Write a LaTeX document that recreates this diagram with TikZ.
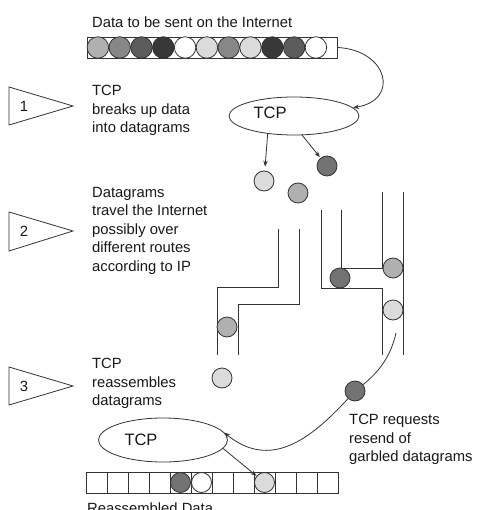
\documentclass[tikz,border=0pt]{standalone}
\usepackage{fontspec}
\setmainfont{Liberation Sans}
\usetikzlibrary{arrows.meta,shapes.geometric}

\definecolor{gA}{gray}{0.69}  % light-medium grey
\definecolor{gB}{gray}{0.53}  % medium grey
\definecolor{gC}{gray}{0.36}  % dark grey
\definecolor{gD}{gray}{0.22}  % very dark grey
\definecolor{gE}{gray}{0.86}  % pale grey
\definecolor{gF}{gray}{0.45}  % garbled / routed dark grey
\definecolor{ink}{gray}{0.2}

\begin{document}
\begin{tikzpicture}[x=1pt,y=-1pt,
  wall/.style={draw=ink, line width=0.8pt},
  dot/.style={circle, draw=ink, line width=0.8pt, inner sep=0pt, minimum size=20pt},
  bigdot/.style={dot, minimum size=21.5pt},
  cell/.style={rectangle, draw=ink, line width=0.8pt, inner sep=0pt, minimum width=21pt, minimum height=21pt},
  tcpshape/.style={ellipse, draw=ink, line width=0.8pt, inner sep=0pt},
  tcptext/.style={inner sep=0pt, font=\fontsize{16.5}{20}\selectfont, text=black!90},
  lbl/.style={anchor=north west, inner sep=0pt, align=left, font=\fontsize{14.8}{18.5}\selectfont, text=black!90},
  numtext/.style={inner sep=0pt, font=\fontsize{14.8}{18}\selectfont, text=black!90},
  arr/.style={draw=ink, line width=0.8pt, -{Stealth[length=6pt,width=4.5pt]}}
]
\useasboundingbox (0,0) rectangle (478,510);
\fill[white] (0,0) rectangle (478,510);

% ---------- step pennants ----------
\draw[wall] (9,87) -- (73,106) -- (9,125) -- cycle;
\node[numtext] (n1) at (24,106) {1};
\draw[wall] (9,212) -- (73,231) -- (9,251) -- cycle;
\node[numtext] (n2) at (24,231) {2};
\draw[wall] (9,367) -- (73,386) -- (9,405) -- cycle;
\node[numtext] (n3) at (24,386) {3};

% ---------- captions ----------
\node[lbl] (cap0) at (92,17) {Data to be sent on the Internet};
\node[lbl] (cap1) at (92,85) {TCP\\breaks up data\\into datagrams};
\node[lbl] (cap2) at (92,187) {Datagrams\\travel the Internet\\possibly over\\different routes\\according to IP};
\node[lbl] (cap3) at (92,358) {TCP\\reassembles\\datagrams};
\node[lbl] (cap4) at (349,414) {TCP requests\\resend of\\garbled datagrams};
\node[lbl] (cap5) at (87,503) {Reassembled Data};

% ---------- original data stream ----------
\node[cell, minimum width=250pt] (src) at (212,47.5) {};
\foreach \c [count=\i from 0] in {gA,gB,gC,gD,white,gE,gB,gE,gD,gC,white}
  \node[bigdot, fill=\c] (s\i) at ({97.9+21.8*\i},47.5) {};

% ---------- sending TCP ----------
\node[tcpshape, minimum width=130pt, minimum height=38pt] (tcp1) at (294,116) {};
\node[tcptext] (tcp1t) at (270,113) {TCP};
\draw[draw=ink, line width=0.8pt, -{Stealth[length=6pt,width=4.5pt]}]
  (src.east) .. controls (388,50) and (400,100) .. (tcp1.8);

% ---------- datagrams leaving TCP ----------
\node[dot, fill=gE] (d1) at (264,181) {};
\node[dot, fill=gA] (d2) at (298,193) {};
\node[dot, fill=gF] (d3) at (327,166) {};
\draw[arr, shorten >=4pt] (tcp1.214) -- (d1);
\draw[arr, shorten >=1pt] (tcp1.293) -- (d3);

% ---------- routes through the Internet ----------
\draw[wall] (278,229) -- (278,287) -- (217,287) -- (217,355);
\draw[wall] (299,229) -- (299,304) -- (238,304) -- (238,355);
\draw[wall] (321,210) -- (321,288) -- (382,288) -- (382,355);
\draw[wall] (341,210) -- (341,268) -- (382,268) -- (382,192);
\draw[wall] (403,192) -- (403,355);

\node[dot, fill=gA] (r1) at (227,327) {};
\node[dot, fill=gF] (r2) at (340,278) {};
\node[dot, fill=gA] (r3) at (393,268) {};
\node[dot, fill=gE] (r4) at (393,310) {};

% ---------- arrived datagrams ----------
\node[dot, fill=gE] (a1) at (222,378) {};
\node[dot, fill=gF] (bad) at (355,391) {};

% ---------- receiving TCP ----------
\node[tcpshape, minimum width=129pt, minimum height=44pt] (tcp2) at (163,440) {};
\node[tcptext] (tcp2t) at (141,440) {TCP};

\coordinate (req) at (396,333);
\draw[draw=ink, line width=0.8pt] (req) .. controls (390,360) and (375,375) .. (bad);
\draw[arr] (bad) .. controls (310,440) and (270,470) .. (tcp2.7);

% ---------- reassembled data ----------
\foreach \i in {0,...,11}
  \node[cell] (b\i) at ({96.5+21*\i},482.5) {};
\node[dot, fill=gF] (b4c) at (b4) {};
\node[dot, fill=white] (b5c) at (b5) {};
\node[dot, fill=gE] (b8c) at (b8) {};
\draw[arr] (tcp2.352) -- (b8c);
\end{tikzpicture}
\end{document}
